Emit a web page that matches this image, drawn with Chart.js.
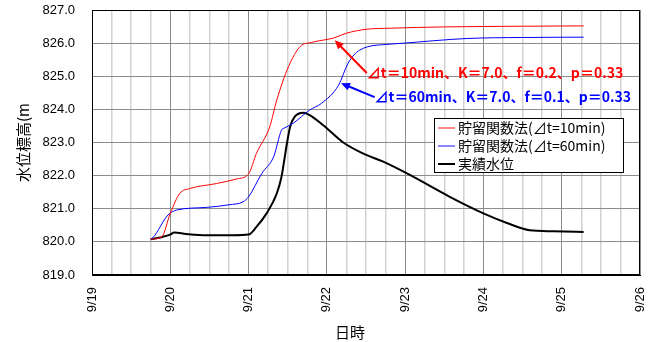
<!DOCTYPE html>
<html>
<head>
<meta charset="utf-8">
<script src="https://cdn.jsdelivr.net/npm/chart.js@4/dist/chart.umd.min.js"></script>
<style>
  html, body { margin: 0; padding: 0; background: #fff; }
  #wrap { width: 653px; height: 342px; }
</style>
</head>
<body>
<div id="wrap"><canvas id="levelChart"></canvas></div>
<script>
// x values are days since 9/19 00:00
const dayLabels = ['9/19', '9/20', '9/21', '9/22', '9/23', '9/24', '9/25', '9/26'];
const xTitle = '日時';
const yTitle = '水位標高(m';

const red10Days = [0.75, 0.89, 1.00, 1.12, 1.25, 1.59, 1.85, 2.00, 2.10, 2.27, 2.36, 2.51, 2.66, 2.80, 2.95, 3.08, 3.25, 3.51, 3.81, 4.5, 5.5, 6.28];
const red10Levels = [820.08, 820.15, 820.86, 821.46, 821.61, 821.76, 821.90, 822.05, 822.67, 823.47, 824.28, 825.29, 825.90, 826.02, 826.09, 826.15, 826.30, 826.42, 826.45, 826.49, 826.51, 826.52];

const blue60Days = [0.75, 0.78, 0.97, 1.08, 1.46, 1.75, 1.93, 2.00, 2.17, 2.32, 2.42, 2.46, 2.57, 2.78, 2.93, 3.15, 3.27, 3.42, 3.81, 3.93, 4.79, 5.5, 6.28];
const blue60Levels = [820.08, 820.13, 820.81, 820.96, 821.04, 821.12, 821.21, 821.36, 822.07, 822.57, 823.37, 823.44, 823.58, 823.98, 824.18, 824.73, 825.39, 825.79, 825.97, 825.99, 826.14, 826.17, 826.18];

const observedDays = [0.75, 0.90, 1.00, 1.05, 1.20, 1.46, 1.80, 2.00, 2.10, 2.23, 2.36, 2.42, 2.49, 2.53, 2.59, 2.70, 2.78, 2.95, 3.21, 3.46, 3.72, 4.06, 4.57, 5.00, 5.30, 5.59, 5.89, 6.28];
const observedLevels = [820.08, 820.15, 820.22, 820.28, 820.24, 820.20, 820.20, 820.22, 820.45, 820.86, 821.46, 821.96, 822.97, 823.47, 823.78, 823.90, 823.83, 823.53, 823.00, 822.67, 822.42, 822.02, 821.36, 820.86, 820.57, 820.35, 820.32, 820.30];

const seriesNames = ['貯留関数法(⊿t=10min)', '貯留関数法(⊿t=60min)', '実績水位'];

// callouts: arrow tip on the curve, text start (days, level)
const callouts = [
  { text: '⊿t＝10min、K＝7.0、f＝0.2、p＝0.33', color: '#ff0000', tip: [3.10, 826.09], tail: [3.51, 825.10] },
  { text: '⊿t＝60min、K＝7.0、f＝0.1、p＝0.33', color: '#0000ff', tip: [3.18, 824.79], tail: [3.61, 824.37] }
];

const FONT = '"Liberation Sans", "Noto Sans CJK JP", Arial, sans-serif';
const JFONT = '"Noto Sans CJK JP", "Liberation Sans", sans-serif';

const toPoints = (xs, ys) => xs.map((x, i) => ({ x: x, y: ys[i] }));

const frame = {
  id: 'frame',
  beforeDatasetsDraw(chart) {
    const { ctx, chartArea: a } = chart;
    ctx.save();
    ctx.strokeStyle = '#000';
    ctx.lineWidth = 1;
    ctx.strokeRect(Math.round(a.left) + 0.5, Math.round(a.top) + 0.5, Math.round(a.right - a.left) - 1, Math.round(a.bottom - a.top) - 1);
    // x axis title sits a little left of centre in the original
    ctx.fillStyle = '#000';
    ctx.font = '15px ' + JFONT;
    ctx.textAlign = 'center';
    ctx.textBaseline = 'middle';
    ctx.fillText(xTitle, (a.left + a.right) / 2 - 16, chart.height - 10);
    ctx.restore();
  }
};

const calloutPlugin = {
  id: 'callouts',
  afterDatasetsDraw(chart) {
    const { ctx, scales } = chart;
    ctx.save();
    callouts.forEach(c => {
      const tx = scales.x.getPixelForValue(c.tip[0]);
      const ty = scales.y.getPixelForValue(c.tip[1]);
      const sx = scales.x.getPixelForValue(c.tail[0]);
      const sy = scales.y.getPixelForValue(c.tail[1]);
      const ang = Math.atan2(ty - sy, tx - sx);
      ctx.strokeStyle = c.color;
      ctx.fillStyle = c.color;
      ctx.lineWidth = 2;
      ctx.beginPath();
      ctx.moveTo(sx, sy);
      ctx.lineTo(tx - 6 * Math.cos(ang), ty - 6 * Math.sin(ang));
      ctx.stroke();
      ctx.beginPath();
      ctx.moveTo(tx, ty);
      ctx.lineTo(tx - 9 * Math.cos(ang) + 4 * Math.sin(ang), ty - 9 * Math.sin(ang) - 4 * Math.cos(ang));
      ctx.lineTo(tx - 9 * Math.cos(ang) - 4 * Math.sin(ang), ty - 9 * Math.sin(ang) + 4 * Math.cos(ang));
      ctx.closePath();
      ctx.fill();
      ctx.font = 'bold 14px ' + JFONT;
      ctx.textAlign = 'left';
      ctx.textBaseline = 'middle';
      ctx.fillText(c.text, sx, sy);
    });
    ctx.restore();
  }
};

const boxLegend = {
  id: 'boxLegend',
  afterDatasetsDraw(chart) {
    const { ctx, chartArea: a } = chart;
    const w = 189, h = 54;
    const x = Math.round(a.right) - 17 - w, y = Math.round(a.top) + 108;
    ctx.save();
    ctx.fillStyle = '#fff';
    ctx.fillRect(x, y, w, h);
    ctx.strokeStyle = '#000';
    ctx.lineWidth = 1;
    ctx.strokeRect(x + 0.5, y + 0.5, w, h);
    ctx.font = '14px ' + JFONT;
    ctx.textBaseline = 'middle';
    chart.data.datasets.forEach((ds, i) => {
      const ly = y + 10 + i * 18;
      ctx.strokeStyle = ds.legendColor;
      ctx.lineWidth = i === 2 ? 2 : 1.5;
      ctx.beginPath();
      ctx.moveTo(x + 4, ly);
      ctx.lineTo(x + 21, ly);
      ctx.stroke();
      ctx.fillStyle = '#000';
      ctx.fillText(ds.label, x + 24, ly);
    });
    ctx.restore();
  }
};

new Chart(document.getElementById('levelChart'), {
  type: 'line',
  data: {
    datasets: [
      { label: seriesNames[0], data: toPoints(red10Days, red10Levels), borderColor: '#ff0000', legendColor: '#ff6060', borderWidth: 1 },
      { label: seriesNames[1], data: toPoints(blue60Days, blue60Levels), borderColor: '#0000ff', legendColor: '#6060ff', borderWidth: 1 },
      { label: seriesNames[2], data: toPoints(observedDays, observedLevels), borderColor: '#000000', legendColor: '#000000', borderWidth: 2 }
    ]
  },
  options: {
    responsive: true,
    maintainAspectRatio: false,
    animation: false,
    layout: { padding: { left: 10, right: 13, top: 10, bottom: 0 } },
    elements: {
      point: { radius: 0 },
      line: { cubicInterpolationMode: 'monotone', fill: false }
    },
    plugins: {
      legend: { display: false },
      tooltip: { enabled: false }
    },
    scales: {
      x: {
        type: 'linear',
        min: 0,
        max: 7,
        afterFit: s => { s.height = 67; s.paddingLeft = 0; s.paddingRight = 0; },
        ticks: {
          stepSize: 0.25,
          autoSkip: false,
          minRotation: 90,
          maxRotation: 90,
          padding: 12,
          color: '#000',
          font: { family: FONT, size: 13 },
          callback: v => Number.isInteger(v) ? dayLabels[v] : ''
        },
        grid: {
          drawTicks: false,
          color: c => Number.isInteger(c.tick.value) ? '#8c8c8c' : '#d2d2d2',
          lineWidth: c => Number.isInteger(c.tick.value) ? 1 : 1.5
        },
        border: { color: '#000' },
        title: { display: false }
      },
      y: {
        min: 819,
        max: 827,
        afterFit: s => { s.width = 82; s.paddingTop = 0; s.paddingBottom = 0; },
        ticks: {
          stepSize: 0.5,
          padding: 17,
          color: '#000',
          font: { family: FONT, size: 13 },
          callback: v => Number.isInteger(v) ? v.toFixed(1) : ''
        },
        grid: {
          drawTicks: false,
          color: c => Number.isInteger(c.tick.value) ? '#8c8c8c' : '#d2d2d2',
          lineWidth: c => Number.isInteger(c.tick.value) ? 1 : 1.5
        },
        border: { color: '#000' },
        title: { display: true, text: yTitle, color: '#000', font: { family: JFONT, size: 15 }, padding: { top: 4, bottom: 4 } }
      }
    }
  },
  plugins: [frame, calloutPlugin, boxLegend]
});
</script>
</body>
</html>
